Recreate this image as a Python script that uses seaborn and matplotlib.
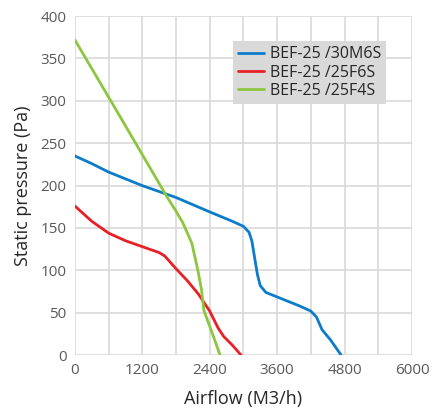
import numpy as np
import pandas as pd
import seaborn as sns
import matplotlib.pyplot as plt
from matplotlib.ticker import MultipleLocator

# curves
blue_x = [0, 300, 600, 1200, 1800, 2400, 2800, 3000, 3100, 3150, 3200, 3250, 3300, 3400, 3700, 4000, 4200, 4300, 4400, 4550, 4740]
blue_y = [235, 226, 216, 200, 186, 169, 158, 152, 145, 135, 115, 95, 82, 74, 66, 58, 52, 45, 30, 18, 0]
red_x = [0, 300, 600, 900, 1200, 1500, 1600, 1800, 2000, 2200, 2400, 2550, 2650, 2800, 2960]
red_y = [176, 158, 144, 135, 128, 121, 117, 102, 88, 72, 52, 32, 22, 12, 0]
green_x = [0, 800, 1656, 1800, 1923, 2083, 2190, 2255, 2296, 2440, 2585]
green_y = [372, 282, 185, 170, 156, 132, 100, 77, 53, 27, 0]
labels = ["BEF-25 /30M6S", "BEF-25 /25F6S", "BEF-25 /25F4S"]
palette = ["#0c7cc9", "#e81f27", "#8cc63e"]

df = pd.concat([
    pd.DataFrame({"x": blue_x, "y": blue_y, "model": labels[0]}),
    pd.DataFrame({"x": red_x, "y": red_y, "model": labels[1]}),
    pd.DataFrame({"x": green_x, "y": green_y, "model": labels[2]}),
])

sns.set_style("white")
plt.rcParams["font.family"] = ["Open Sans", "DejaVu Sans"]

fig = plt.figure(figsize=(4.35, 4.12), dpi=100)
ax = fig.add_axes([0.172, 0.138, 0.775, 0.823])
sns.lineplot(data=df, x="x", y="y", hue="model", palette=palette, sort=False,
             linewidth=2.0, ax=ax)

ax.set_xlim(0, 6000)
ax.set_ylim(0, 400)
ax.xaxis.set_major_locator(MultipleLocator(1200))
ax.xaxis.set_minor_locator(MultipleLocator(600))
ax.yaxis.set_major_locator(MultipleLocator(50))
ax.grid(which="both", color="#d9d9d9", linewidth=1.2)
ax.set_axisbelow(True)
for s in ax.spines.values():
    s.set_visible(False)
ax.tick_params(which="both", length=0, labelsize=11, labelcolor="#595959", pad=6)

ax.set_xlabel("Airflow (M3/h)", fontsize=13, color="#262626", labelpad=8)
ax.set_ylabel("Static pressure (Pa)", fontsize=13, color="#262626", labelpad=6)

leg = ax.legend(loc="upper left", bbox_to_anchor=(0.47, 0.925), fontsize=11.5,
                frameon=True, fancybox=False, handlelength=1.6, handletextpad=0.4,
                borderpad=0.3, labelspacing=0.15, borderaxespad=0)
leg.get_frame().set_facecolor("#d9d9d9")
leg.get_frame().set_edgecolor("none")
leg.get_frame().set_alpha(1)

fig.savefig("out.png", dpi=100)
